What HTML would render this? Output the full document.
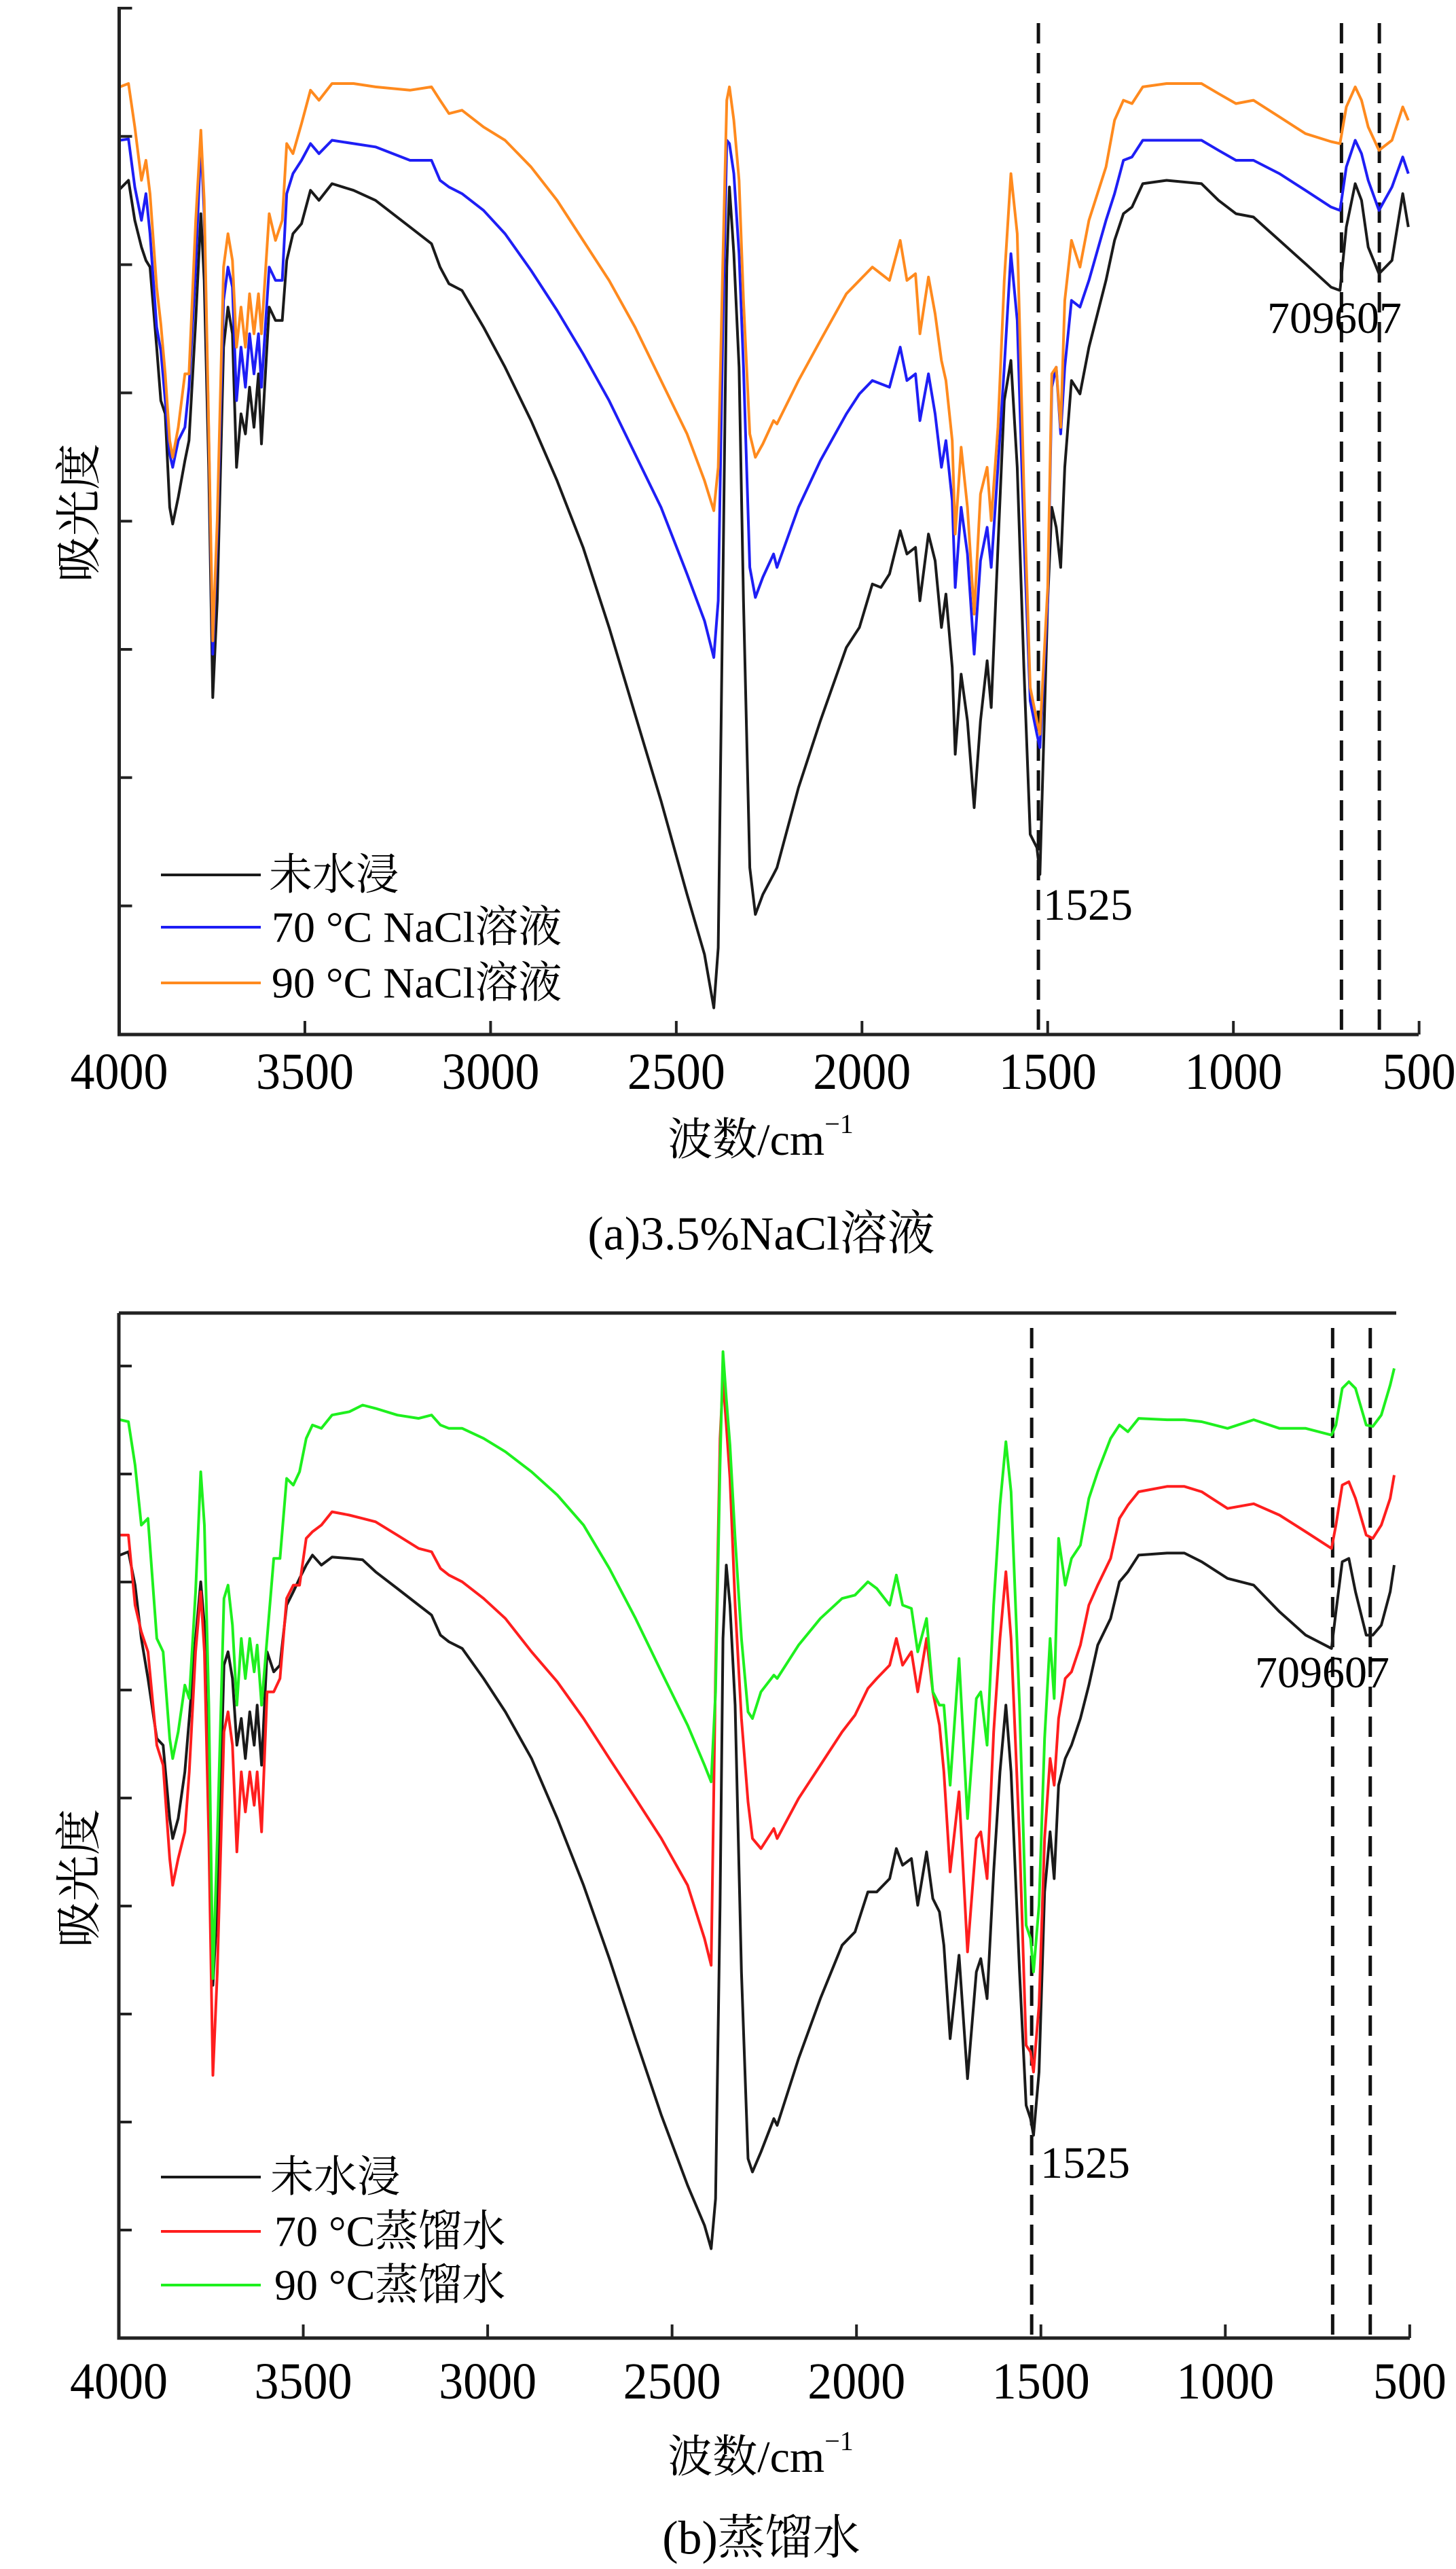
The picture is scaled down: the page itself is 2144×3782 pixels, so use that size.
<!DOCTYPE html>
<html><head><meta charset="utf-8"><title>FTIR spectra</title>
<style>
html,body{margin:0;padding:0;background:#fff;}
svg{display:block;}
text{font-family:"Liberation Serif","Noto Serif CJK SC",serif;fill:#000;}
</style></head>
<body>
<svg id="fig" xmlns="http://www.w3.org/2000/svg" width="2144" height="3782" viewBox="0 0 2144 3782">
<rect x="0" y="0" width="2144" height="3782" fill="#fff"/>
<g id="panelA"></g>
<g id="panelB"></g>
</svg>
<script>
// ---- data (wavenumber cm-1, absorbance in mAU, arbitrary offset) ----
const A_WN = [3998,3975,3958,3940,3928,3917,3899,3888,3876,3864,3856,3841,3823,3812,3794,3780,3771,3759,3748,3736,3719,3707,3695,3684,3672,3660,3649,3637,3625,3617,3596,3579,3561,3549,3532,3509,3485,3462,3427,3369,3310,3217,3159,3136,3112,3077,3019,2961,2891,2821,2751,2681,2611,2541,2471,2424,2399,2387,2375,2364,2357,2345,2331,2319,2302,2287,2267,2238,
2229,2171,2112,2042,2007,1972,1949,1926,1897,1879,1856,1844,1821,1803,1786,1774,1757,1749,1733,1716,1698,1681,1663,1652,1634,1617,1599,1582,1564,1547,1529,1521,1500,1489,1477,1465,1454,1436,1413,1389,1343,1320,1296,1273,1244,1180,1086,1040,993,946,876,806,737,713,696,672,655,637,608,573,544,529];
const A_UNSOAKED = [1317,1330,1270,1230,1210,1200,1080,1000,980,840,815,855,910,940,1120,1280,1180,900,555,700,1080,1140,1100,900,980,950,1020,960,1040,935,1140,1120,1120,1210,1250,1265,1315,1300,1325,1315,1300,1260,1235,1200,1175,1165,1110,1050,970,880,780,660,530,400,260,170,90,180,700,1200,1320,1220,1050,700,300,230,260,290,
300,420,520,630,660,725,720,740,805,770,780,700,800,760,660,710,600,470,590,520,390,520,610,540,780,1000,1060,900,600,350,330,290,700,840,810,750,900,1030,1010,1080,1180,1240,1280,1290,1325,1330,1325,1300,1280,1275,1240,1205,1170,1165,1260,1325,1300,1230,1190,1210,1310,1260];
const A_NACL70 = [1390,1392,1320,1270,1310,1250,1110,1075,1000,920,900,940,960,1020,1200,1390,1280,950,620,800,1150,1200,1170,1000,1080,1020,1100,1040,1100,1020,1200,1180,1180,1310,1340,1360,1385,1370,1390,1385,1380,1360,1360,1330,1320,1310,1285,1250,1195,1135,1070,1000,920,840,740,670,615,700,1100,1390,1385,1340,1220,1050,750,705,735,770,
750,840,910,980,1010,1030,1025,1020,1080,1030,1040,970,1040,980,900,940,850,720,840,770,620,760,810,750,900,1050,1220,1120,800,550,500,480,700,1020,1050,950,1050,1150,1140,1180,1270,1310,1360,1365,1390,1390,1390,1375,1360,1360,1340,1315,1290,1285,1350,1390,1370,1330,1285,1320,1365,1340];
const A_NACL90 = [1470,1475,1410,1330,1360,1310,1170,1115,1040,940,915,960,1040,1040,1270,1405,1300,960,640,820,1200,1250,1210,1080,1140,1080,1160,1100,1160,1100,1280,1240,1270,1385,1370,1415,1465,1450,1475,1475,1470,1465,1470,1450,1430,1435,1410,1390,1350,1300,1240,1180,1110,1030,950,880,835,900,1200,1450,1470,1420,1330,1150,950,915,935,970,
965,1030,1090,1160,1180,1200,1190,1180,1240,1180,1190,1100,1185,1130,1060,1030,940,800,930,840,680,860,900,820,960,1180,1340,1250,870,570,520,500,720,1040,1050,960,1150,1240,1200,1270,1350,1420,1450,1445,1470,1475,1475,1460,1445,1450,1425,1400,1388,1385,1440,1470,1450,1410,1375,1390,1440,1420];

const B_WN = [3997,3974,3956,3939,3921,3897,3880,3862,3854,3839,3821,3809,3792,3778,3768,3756,3745,3733,3715,3704,3692,3680,3668,3657,3645,3633,3625,3613,3598,3580,3563,3545,3527,3510,3492,3475,3451,3422,3375,3339,3304,3245,3187,3152,3128,3105,3069,3011,2952,2881,2811,2740,2670,2599,2529,2458,2412,2394,2382,2370,2362,2353,2343,2329,2312,2294,2282,2259,2224,
2215,2157,2098,2039,2004,1969,1945,1910,1892,1875,1851,1834,1810,1793,1775,1763,1746,1722,1699,1675,1663,1646,1628,1611,1595,1581,1558,1540,1528,1520,1505,1490,1475,1464,1452,1434,1417,1393,1370,1346,1311,1287,1264,1235,1158,1111,1064,994,923,853,782,712,700,683,665,647,618,600,577,553,542];
const B_UNSOAKED = [1225,1230,1180,1100,1040,950,940,830,800,830,900,980,1100,1185,1120,820,580,700,1060,1080,1040,940,980,920,990,940,1000,910,1080,1050,1060,1150,1170,1190,1210,1225,1210,1222,1220,1218,1200,1175,1150,1135,1105,1095,1085,1040,990,920,830,730,620,500,385,280,220,185,260,700,1100,1210,1150,1000,600,320,300,330,380,
370,470,560,640,660,720,720,740,785,760,770,700,780,710,690,640,500,625,440,600,620,560,750,900,1000,900,600,400,380,355,450,720,810,740,880,920,940,980,1030,1090,1130,1185,1200,1225,1228,1228,1215,1190,1180,1140,1105,1085,1140,1215,1220,1170,1105,1105,1120,1170,1210];
const B_WATER70 = [1255,1255,1150,1110,1080,940,910,770,730,770,810,900,1080,1170,1080,800,445,600,960,990,940,780,900,840,900,850,900,810,1020,1020,1040,1160,1180,1180,1250,1260,1270,1290,1285,1280,1275,1255,1235,1230,1205,1195,1185,1160,1130,1080,1035,980,920,860,800,730,650,610,1050,1400,1490,1420,1340,1150,980,855,800,785,815,
800,860,910,960,985,1025,1040,1060,1100,1060,1080,1020,1100,1020,970,900,750,870,630,800,810,740,960,1100,1200,1100,800,490,480,450,550,800,920,880,980,1040,1050,1090,1150,1180,1220,1280,1300,1320,1328,1328,1320,1295,1302,1285,1260,1235,1270,1330,1335,1310,1255,1250,1270,1310,1345];
const B_WATER90 = [1428,1425,1360,1270,1280,1100,1080,950,920,960,1030,1010,1170,1350,1270,1000,590,800,1160,1180,1120,1000,1100,1040,1100,1050,1090,1000,1100,1220,1220,1340,1330,1350,1400,1420,1415,1435,1440,1450,1445,1435,1430,1435,1420,1415,1415,1400,1380,1350,1315,1270,1205,1130,1050,970,910,885,1020,1360,1530,1460,1390,1250,1100,990,980,1020,1045,
1040,1090,1130,1160,1165,1185,1175,1150,1195,1150,1145,1080,1130,1020,1000,1000,880,1070,830,1010,1020,940,1150,1300,1395,1320,1000,670,650,600,700,950,1100,1010,1250,1180,1220,1240,1310,1350,1400,1420,1410,1430,1428,1428,1425,1415,1428,1415,1415,1405,1420,1475,1485,1475,1420,1418,1435,1480,1505];

const X_TICKS = [3500,3000,2500,2000,1500,1000,500];
const X_TICK_LABELS = ["4000","3500","3000","2500","2000","1500","1000","500"];
const X_LABEL_VALUES = [4000,3500,3000,2500,2000,1500,1000,500];
const MARKERS = [1525,709,607];

const NS = "http://www.w3.org/2000/svg";
function mk(parent, tag, attrs, txt){
  const e = document.createElementNS(NS, tag);
  for (const k in attrs) e.setAttribute(k, attrs[k]);
  if (txt !== undefined) e.textContent = txt;
  parent.appendChild(e);
  return e;
}

function drawPanel(g, cfg){
  const xS = wn => cfg.x0 + (4000 - wn) * cfg.kx;
  const yS = v => cfg.yBot - (v - cfg.vBot) / (cfg.vTop - cfg.vBot) * (cfg.yBot - cfg.yTop);

  // dashed marker lines
  MARKERS.forEach(m => {
    const l = mk(g, 'line', {x1:xS(m), x2:xS(m), y1:cfg.yDashTop, y2:cfg.yBot, stroke:'#111', 'stroke-width':5, 'stroke-dasharray':'30 14'});
    
    
  });

  // series
  cfg.series.forEach(s => {
    let d = '';
    for (let i = 0; i < cfg.wn.length; i++) {
      d += (i ? 'L' : 'M') + xS(cfg.wn[i]).toFixed(1) + ' ' + yS(s.vals[i]).toFixed(1);
    }
    const p = mk(g, 'path', {d:d, fill:'none', stroke:s.color, 'stroke-width':4, 'stroke-linejoin':'round'});
    
    
  });

  // axes
  const ax = mk(g, 'path', {d:'M'+cfg.x0+' '+cfg.yAxisTop+'V'+cfg.yBot+'H'+cfg.xAxisEnd, fill:'none', stroke:'#222', 'stroke-width':5});
  
  
  if (cfg.topBorder) {
    const tb = mk(g, 'line', {x1:cfg.x0, x2:cfg.topEnd, y1:cfg.yTop, y2:cfg.yTop, stroke:'#222', 'stroke-width':5});
    
    
  }
  // y ticks
  cfg.yTicks.forEach(ty => {
    const t = mk(g, 'line', {x1:cfg.x0, x2:cfg.x0+19, y1:ty, y2:ty, stroke:'#222', 'stroke-width':4});
    
    
  });
  // x ticks
  X_TICKS.forEach(v => {
    const t = mk(g, 'line', {x1:xS(v), x2:xS(v), y1:cfg.yBot, y2:cfg.yBot-20, stroke:'#222', 'stroke-width':4});
    
    
  });
  X_LABEL_VALUES.forEach((v, i) => {
    const t = mk(g, 'text', {x:xS(v), y:cfg.labelY, 'font-size':76, 'text-anchor':'middle', 'dominant-baseline':'central', textLength: X_TICK_LABELS[i].length*36, lengthAdjust:'spacingAndGlyphs'}, X_TICK_LABELS[i]);
    
    
  });
  // axis titles
  const xt = mk(g, 'text', {x:1120, y:cfg.titleY, 'font-size':66, 'text-anchor':'middle', 'dominant-baseline':'central'});
  
  
  mk(xt, 'tspan', {}, '波数/cm');
  mk(xt, 'tspan', {dy:-24, 'font-size':40}, '−1');
  const yt = mk(g, 'text', {x:0, y:0, 'font-size':68, 'text-anchor':'middle', 'dominant-baseline':'central', transform:'translate(117,'+cfg.yTitleY+') rotate(-90)'}, '吸光度');
  
  
  const cap = mk(g, 'text', {x:1121, y:cfg.capY, 'font-size':70, 'text-anchor':'middle', 'dominant-baseline':'central'}, cfg.caption);
  
  

  // annotations
  const a1 = mk(g, 'text', {x:cfg.ann1525[0], y:cfg.ann1525[1], 'font-size':66}, '1525');
  
  
  const a2 = mk(g, 'text', {x:cfg.ann709[0], y:cfg.ann709[1], 'font-size':66}, '709607');
  
  

  // legend
  const lg = mk(g, 'g', {});
  
  
  cfg.series.forEach((s, i) => {
    const ly = cfg.legendY[i];
    const ln = mk(lg, 'line', {x1:237, x2:384, y1:ly, y2:ly, stroke:s.color, 'stroke-width':4});
    
    
    const tx = mk(lg, 'text', {x:s.lx, y:ly, 'font-size':64, 'dominant-baseline':'central'}, s.label);
    
    
  });
}

const ticksA = []; for (let k = 0; k < 8; k++) ticksA.push(12 + 188.8*k);
const ticksB = []; for (let k = 0; k < 9; k++) ticksB.push(2011 + 159*k);

drawPanel(document.getElementById('panelA'), {
  x0:175.5, kx:0.5469, yTop:12, yBot:1523, vTop:1588, vBot:50, yAxisTop:10, xAxisEnd:2089,
  topBorder:false, yDashTop:34, yTicks:ticksA, labelY:1578, titleY:1678, capY:1817, yTitleY:755,
  caption:'(a)3.5%NaCl溶液', ann1525:[1536,1354], ann709:[1866,490],
  wn:A_WN, legendY:[1288,1365,1447],
  series:[
    {name:'unsoaked-a', label:'未水浸', color:'#1a1a1a', vals:A_UNSOAKED, lx:396},
    {name:'nacl-70c', label:' 70 °C NaCl溶液', color:'#1e1ef5', vals:A_NACL70, lx:400},
    {name:'nacl-90c', label:' 90 °C NaCl溶液', color:'#ff8a1e', vals:A_NACL90, lx:400}
  ]
});
drawPanel(document.getElementById('panelB'), {
  x0:175, kx:0.5431, yTop:1933, yBot:3442, vTop:1588, vBot:51, yAxisTop:1933, xAxisEnd:2076,
  topBorder:true, topEnd:2056, yDashTop:1955, yTicks:ticksB, labelY:3506, titleY:3617, capY:3737, yTitleY:2765,
  caption:'(b)蒸馏水', ann1525:[1532,3206], ann709:[1848,2484],
  wn:B_WN, legendY:[3205,3285,3364],
  series:[
    {name:'unsoaked-b', label:'未水浸', color:'#1a1a1a', vals:B_UNSOAKED, lx:398},
    {name:'water-70c', label:'70 °C蒸馏水', color:'#ff1e1e', vals:B_WATER70, lx:404},
    {name:'water-90c', label:'90 °C蒸馏水', color:'#1ef01e', vals:B_WATER90, lx:404}
  ]
});
</script>
</body></html>
